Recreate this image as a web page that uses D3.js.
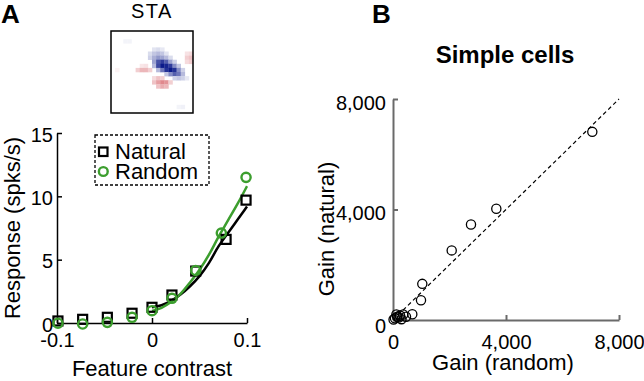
<!DOCTYPE html>
<html>
<head>
<meta charset="utf-8">
<script src="https://cdn.jsdelivr.net/npm/d3@7"></script>
<style>
  body { margin: 0; background: #fff; }
  svg { display: block; font-family: "Liberation Sans", Arial, sans-serif; }
</style>
</head>
<body>
<svg id="chart" width="644" height="381"></svg>
<script>
// ---------- Panel A data ----------
const contrastX = [-0.099, -0.073, -0.047, -0.021, 0, 0.021, 0.046, 0.078, 0.099];
const naturalResp = [0.16, 0.29, 0.45, 0.77, 1.24, 2.21, 4.1, 6.6, 9.7];
const randomX = [-0.099, -0.073, -0.047, -0.021, 0, 0.021, 0.046, 0.073, 0.099];
const randomResp = [-0.02, -0.08, 0.05, 0.45, 0.97, 1.95, 4.15, 7.1, 11.5];
const fitX = [0, 0.01, 0.02, 0.03, 0.04, 0.05, 0.06, 0.07, 0.08, 0.09, 0.1];
const naturalFit = [1.25, 1.4, 1.75, 2.25, 2.9, 3.7, 4.75, 6.05, 7.1, 8.15, 9.2];
const randomFit = [0.95, 1.2, 1.65, 2.3, 3.2, 4.2, 5.4, 6.8, 8.1, 9.4, 10.8];
const xTicksA = [-0.1, 0, 0.1];
const xTickLabelsA = ["-0.1", "0", "0.1"];
const yTicksA = [0, 5, 10, 15];
const legendLabels = ["Natural", "Random"];

// STA image: [col, row, value] on a 20x20 grid, + = blue, - = red
const staCells = [
  [10,4,0.12],[11,4,0.15],[12,4,0.1],
  [9,5,0.15],[10,5,0.25],[11,5,0.3],[12,5,0.25],[13,5,0.12],
  [9,6,0.2],[10,6,0.35],[11,6,0.45],[12,6,0.4],[13,6,0.3],[14,6,0.15],
  [10,7,0.4],[11,7,0.75],[12,7,0.85],[13,7,0.7],[14,7,0.4],[15,7,0.2],
  [10,8,0.3],[11,8,0.8],[12,8,1.0],[13,8,0.95],[14,8,0.85],[15,8,0.5],[16,8,0.25],
  [11,9,0.3],[12,9,0.6],[13,9,0.9],[14,9,1.0],[15,9,0.9],[16,9,0.5],[17,9,0.2],
  [13,10,0.25],[14,10,0.5],[15,10,0.7],[16,10,0.6],[17,10,0.3],
  [15,11,0.2],[16,11,0.25],[17,11,0.2],[18,11,0.1],
  [7,8,-0.1],[8,8,-0.12],
  [6,9,-0.2],[7,9,-0.3],[8,9,-0.3],[9,9,-0.2],
  [10,11,-0.15],[11,11,-0.25],[12,11,-0.2],
  [10,12,-0.25],[11,12,-0.4],[12,12,-0.5],[13,12,-0.45],[14,12,-0.2],
  [11,13,-0.25],[12,13,-0.35],[13,13,-0.3],
  [18,5,-0.12],[19,5,-0.15],[18,6,-0.2],[19,6,-0.25],[18,7,-0.15],[19,7,-0.2],
  [3,2,0.05],[4,2,0.05],[1,9,-0.05],[17,18,0.06],[16,18,0.05]
];

// ---------- Panel B data ----------
const gainRandom = [7055, 3657, 2761, 2078, 1037, 991, 683, 20, 70, 150, 250, 360, 300, 460, 200, 120];
const gainNatural = [6811, 4025, 3455, 2520, 1309, 716, 207, 20, 60, 120, 160, 200, 30, 120, 90, 200];
const gainTicks = [0, 4000, 8000];

const green = "#3c9e2e";
const svg = d3.select("#chart");

// ---------- Panel labels ----------
svg.append("text").attr("x", 1).attr("y", 23).attr("font-size", 26).attr("font-weight", "bold").text("A");
svg.append("text").attr("x", 372).attr("y", 23).attr("font-size", 26).attr("font-weight", "bold").text("B");

// ---------- STA ----------
const staX = d3.scaleBand().domain(d3.range(20)).range([111, 193]);
const staY = d3.scaleBand().domain(d3.range(20)).range([31, 113]);
const staColor = v => v >= 0 ? d3.interpolateRgb("#ffffff", "#0b1a8a")(v) : d3.interpolateRgb("#ffffff", "#c0101a")(-v);
svg.append("g").selectAll("rect").data(staCells).join("rect")
  .attr("x", d => staX(d[0])).attr("y", d => staY(d[1]))
  .attr("width", staX.bandwidth() + 0.3).attr("height", staY.bandwidth() + 0.3)
  .attr("fill", d => staColor(d[2]));
svg.append("rect").attr("x", 111).attr("y", 31).attr("width", 82).attr("height", 82)
  .attr("fill", "none").attr("stroke", "#000").attr("stroke-width", 1.5);
svg.append("text").attr("x", 152).attr("y", 18).attr("text-anchor", "middle")
  .attr("font-size", 20).attr("letter-spacing", 1.5).text("STA");

// ---------- Panel A ----------
const xA = d3.scaleLinear().domain([-0.1, 0.1]).range([57, 247]);
const yA = d3.scaleLinear().domain([0, 15]).range([323, 133]);

const axA_x = svg.append("g").attr("transform", "translate(0,323)")
  .call(d3.axisBottom(xA).tickValues(xTicksA).tickFormat((d, i) => xTickLabelsA[i]).tickSizeInner(-5).tickSizeOuter(0).tickPadding(10));
const axA_y = svg.append("g").attr("transform", "translate(57,0)")
  .call(d3.axisLeft(yA).tickValues(yTicksA).tickSizeInner(-5).tickSizeOuter(0).tickPadding(4));
[axA_x, axA_y].forEach(g => {
  g.selectAll("path,line").attr("stroke", "#000").attr("stroke-width", 1.5);
  g.selectAll("text").attr("font-size", 20).attr("fill", "#000").attr("font-family", "Liberation Sans, Arial, sans-serif");
});
axA_y.selectAll("text").attr("dy", "0.4em");

svg.append("text").attr("x", 152).attr("y", 376).attr("text-anchor", "middle").attr("font-size", 22).text("Feature contrast");
svg.append("text").attr("transform", "translate(20,228) rotate(-90)").attr("text-anchor", "middle")
  .attr("font-size", 22).text("Response (spks/s)");

// fits
const lineA = d3.line().x(d => xA(d[0])).y(d => yA(d[1])).curve(d3.curveMonotoneX);
svg.append("path").datum(fitX.map((x, i) => [x, naturalFit[i]])).attr("d", lineA)
  .attr("fill", "none").attr("stroke", "#000").attr("stroke-width", 2.5);
svg.append("path").datum(fitX.map((x, i) => [x, randomFit[i]])).attr("d", lineA)
  .attr("fill", "none").attr("stroke", green).attr("stroke-width", 2.5);

// markers
svg.append("g").selectAll("rect").data(contrastX.map((x, i) => [x, naturalResp[i]])).join("rect")
  .attr("x", d => xA(d[0]) - 4.5).attr("y", d => yA(d[1]) - 4.5).attr("width", 9).attr("height", 9)
  .attr("fill", "none").attr("stroke", "#000").attr("stroke-width", 2.2);
svg.append("g").selectAll("circle").data(randomX.map((x, i) => [x, randomResp[i]])).join("circle")
  .attr("cx", d => xA(d[0])).attr("cy", d => yA(d[1])).attr("r", 4.6)
  .attr("fill", "none").attr("stroke", green).attr("stroke-width", 2.4);

// legend
svg.append("rect").attr("x", 95).attr("y", 135).attr("width", 114).attr("height", 50)
  .attr("fill", "#fff").attr("stroke", "#000").attr("stroke-width", 1.3).attr("stroke-dasharray", "3,2");
svg.append("rect").attr("x", 99).attr("y", 147.5).attr("width", 8.5).attr("height", 8.5)
  .attr("fill", "none").attr("stroke", "#000").attr("stroke-width", 2.2);
svg.append("circle").attr("cx", 103.3).attr("cy", 171.5).attr("r", 4.4)
  .attr("fill", "none").attr("stroke", green).attr("stroke-width", 2.4);
svg.append("text").attr("x", 115).attr("y", 158.5).attr("font-size", 22).text(legendLabels[0]);
svg.append("text").attr("x", 115).attr("y", 179).attr("font-size", 22).text(legendLabels[1]);

// ---------- Panel B ----------
const xB = d3.scaleLinear().domain([0, 8000]).range([393, 619]);
const yB = d3.scaleLinear().domain([0, 8000]).range([320, 99]);

svg.append("text").attr("x", 505).attr("y", 63).attr("text-anchor", "middle")
  .attr("font-size", 24).attr("font-weight", "bold").text("Simple cells");

// unity line
svg.append("line").attr("x1", xB(0)).attr("y1", yB(0)).attr("x2", xB(8000)).attr("y2", yB(8000))
  .attr("stroke", "#000").attr("stroke-width", 1.2).attr("stroke-dasharray", "4,3");

const axB_x = svg.append("g").attr("transform", "translate(0,320)")
  .call(d3.axisBottom(xB).tickValues(gainTicks).tickFormat(d3.format(",")).tickSizeInner(-5).tickSizeOuter(0).tickPadding(15));
const axB_y = svg.append("g").attr("transform", "translate(393,0)")
  .call(d3.axisLeft(yB).tickValues(gainTicks).tickFormat(d3.format(",")).tickSizeInner(-5).tickSizeOuter(0).tickPadding(7));
[axB_x, axB_y].forEach(g => {
  g.selectAll("path,line").attr("stroke", "#6a6a6a").attr("stroke-width", 2);
  g.selectAll("text").attr("font-size", 20).attr("fill", "#000").attr("font-family", "Liberation Sans, Arial, sans-serif");
});
axB_y.selectAll("text").attr("dy", (d) => d === 0 ? "0.62em" : "0.5em");

svg.append("text").attr("x", 503).attr("y", 370).attr("text-anchor", "middle").attr("font-size", 22).text("Gain (random)");
svg.append("text").attr("transform", "translate(334,229) rotate(-90)").attr("text-anchor", "middle")
  .attr("font-size", 22).text("Gain (natural)");

svg.append("g").selectAll("circle").data(gainRandom.map((x, i) => [x, gainNatural[i]])).join("circle")
  .attr("cx", d => xB(d[0])).attr("cy", d => yB(d[1])).attr("r", 4.6)
  .attr("fill", "none").attr("stroke", "#000").attr("stroke-width", 1.3);
</script>
</body>
</html>
